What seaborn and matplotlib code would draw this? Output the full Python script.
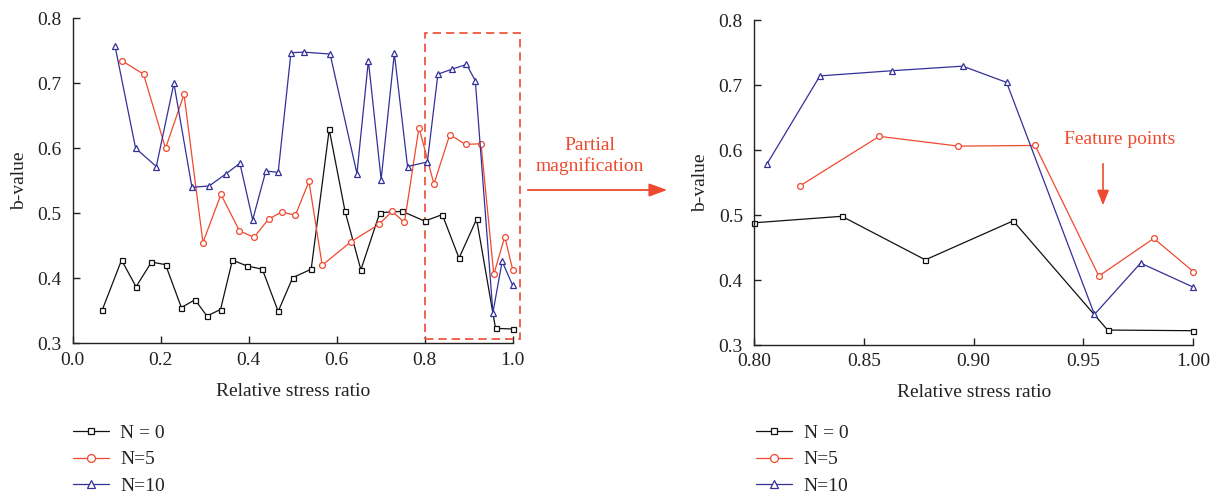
import numpy as np
import pandas as pd
import matplotlib
matplotlib.use("Agg")
import matplotlib.pyplot as plt
import seaborn as sns
from matplotlib.patches import Rectangle, FancyArrowPatch
from matplotlib.lines import Line2D

# ---------------- data ----------------
x_n0 = [0.067, 0.111, 0.144, 0.179, 0.211, 0.247, 0.278, 0.305, 0.336, 0.363, 0.396, 0.431, 0.467,
        0.500, 0.542, 0.583, 0.619, 0.655, 0.698, 0.749, 0.800, 0.840, 0.878, 0.918, 0.961, 1.000]
y_n0 = [0.351, 0.428, 0.387, 0.425, 0.421, 0.355, 0.367, 0.342, 0.352, 0.428, 0.419, 0.414, 0.349,
        0.401, 0.414, 0.629, 0.503, 0.413, 0.501, 0.503, 0.488, 0.498, 0.431, 0.491, 0.323, 0.322]

x_n5 = [0.111, 0.161, 0.211, 0.253, 0.296, 0.337, 0.379, 0.412, 0.445, 0.475, 0.506, 0.537, 0.567,
        0.632, 0.696, 0.726, 0.754, 0.787, 0.821, 0.857, 0.893, 0.928, 0.957, 0.982, 1.000]
y_n5 = [0.735, 0.714, 0.600, 0.683, 0.455, 0.529, 0.473, 0.463, 0.491, 0.502, 0.497, 0.549, 0.420,
        0.456, 0.483, 0.503, 0.486, 0.632, 0.545, 0.621, 0.606, 0.607, 0.406, 0.464, 0.413]

x_n10 = [0.096, 0.143, 0.190, 0.230, 0.271, 0.310, 0.349, 0.380, 0.409, 0.439, 0.467, 0.496, 0.525,
         0.585, 0.646, 0.672, 0.701, 0.731, 0.761, 0.806, 0.830, 0.863, 0.895, 0.915, 0.955, 0.976, 1.000]
y_n10 = [0.758, 0.600, 0.572, 0.700, 0.540, 0.542, 0.561, 0.577, 0.490, 0.565, 0.563, 0.747, 0.748,
         0.745, 0.561, 0.735, 0.552, 0.746, 0.572, 0.579, 0.714, 0.722, 0.729, 0.704, 0.347, 0.426, 0.389]

labels = ["N = 0", "N=5", "N=10"]
left_xticks = [0.0, 0.2, 0.4, 0.6, 0.8, 1.0]
right_xticks = [0.80, 0.85, 0.90, 0.95, 1.00]
yticks = [0.3, 0.4, 0.5, 0.6, 0.7, 0.8]
zoom_start = 0.8

# ---------------- style ----------------
sns.set_theme(style="ticks")
plt.rcParams["font.family"] = ["Liberation Serif", "DejaVu Serif"]
plt.rcParams["axes.edgecolor"] = "#222222"
plt.rcParams["xtick.color"] = "#222222"
plt.rcParams["ytick.color"] = "#222222"
plt.rcParams["text.color"] = "#222222"
plt.rcParams["axes.labelcolor"] = "#222222"

RED = "#EF4A2F"
BLUE = "#33309A"
BLACK = "#111111"
colors = [BLACK, RED, BLUE]
markers = ["s", "o", "^"]
msizes = [3.6, 4.2, 4.4]
FS = 14

series = [(x_n0, y_n0), (x_n5, y_n5), (x_n10, y_n10)]

fig = plt.figure(figsize=(12.21, 4.98), dpi=100)
W, H = 1221, 498
ax1 = fig.add_axes([72.7 / W, (H - 343.3) / H, 440 / W, 325 / H])
ax2 = fig.add_axes([754 / W, (H - 345) / H, 439.3 / W, 325 / H])


def draw(ax, zoom):
    for (xs, ys), lab, c, m, ms in zip(series, labels, colors, markers, msizes):
        df = pd.DataFrame({"x": xs, "y": ys})
        if zoom:
            df = df[df["x"] >= zoom_start - 1e-9]
        sns.lineplot(data=df, x="x", y="y", ax=ax, color=c, marker=m, markersize=ms,
                     markerfacecolor="white", markeredgecolor=c, markeredgewidth=0.9,
                     linewidth=0.9, sort=False, estimator=None, label=lab, clip_on=False)
    ax.set_ylim(0.3, 0.8)
    ax.set_yticks(yticks)
    ax.set_yticklabels([f"{v:.1f}" for v in yticks])
    ax.set_ylabel("b-value", fontsize=FS, labelpad=7)
    ax.set_xlabel("Relative stress ratio", fontsize=FS, labelpad=10)
    ax.tick_params(direction="in", length=5, width=1, labelsize=FS, pad=6)
    ax.tick_params(axis="y", pad=8)
    sns.despine(ax=ax)
    for s in ["left", "bottom"]:
        ax.spines[s].set_linewidth(1.0)
    if ax.get_legend():
        ax.get_legend().remove()


draw(ax1, False)
ax1.set_xlim(0.0, 1.0)
ax1.set_xticks(left_xticks)
ax1.set_xticklabels([f"{v:.1f}" for v in left_xticks])

draw(ax2, True)
ax2.set_xlim(0.8, 1.0)
ax2.set_xticks(right_xticks)
ax2.set_xticklabels([f"{v:.2f}" for v in right_xticks])

# legends
handles = [Line2D([], [], color=c, marker=m, markersize=ms * 1.35, markerfacecolor="white",
                  markeredgecolor=c, markeredgewidth=0.9, linewidth=0.9)
           for c, m, ms in zip(colors, markers, msizes)]
for xpix in (72.7, 756):
    fig.legend(handles, labels, loc="upper left", bbox_to_anchor=(xpix / W, 1 - 424 / H),
               bbox_transform=fig.transFigure, frameon=False, fontsize=FS, borderpad=0,
               borderaxespad=0, handlelength=1.85, handletextpad=0.6, labelspacing=0.47)

# dashed magnification box
rect = Rectangle((0.8, 0.306), 0.217, 0.471, fill=False, edgecolor=RED, linewidth=1.2,
                 linestyle=(0, (5, 3)), clip_on=False, transform=ax1.transData)
ax1.add_patch(rect)

# Partial magnification arrow
arr = FancyArrowPatch((525 / W, 1 - 190 / H), (670 / W, 1 - 190 / H), transform=fig.transFigure,
                      arrowstyle="-|>,head_length=0.55,head_width=0.2", mutation_scale=20,
                      color=RED, linewidth=1.3)
fig.add_artist(arr)
fig.text(590 / W, 1 - 156 / H, "Partial\nmagnification", color=RED, fontsize=FS,
         ha="center", va="center", multialignment="center", linespacing=1.25)

# Feature points
fig.text(1120 / W, 1 - 140 / H, "Feature points", color=RED, fontsize=FS, ha="center", va="center")
arr2 = FancyArrowPatch((1103 / W, 1 - 161 / H), (1103 / W, 1 - 208 / H), transform=fig.transFigure,
                       arrowstyle="-|>,head_length=0.5,head_width=0.2", mutation_scale=18,
                       color=RED, linewidth=1.2)
fig.add_artist(arr2)

fig.savefig("out.png", dpi=100)
